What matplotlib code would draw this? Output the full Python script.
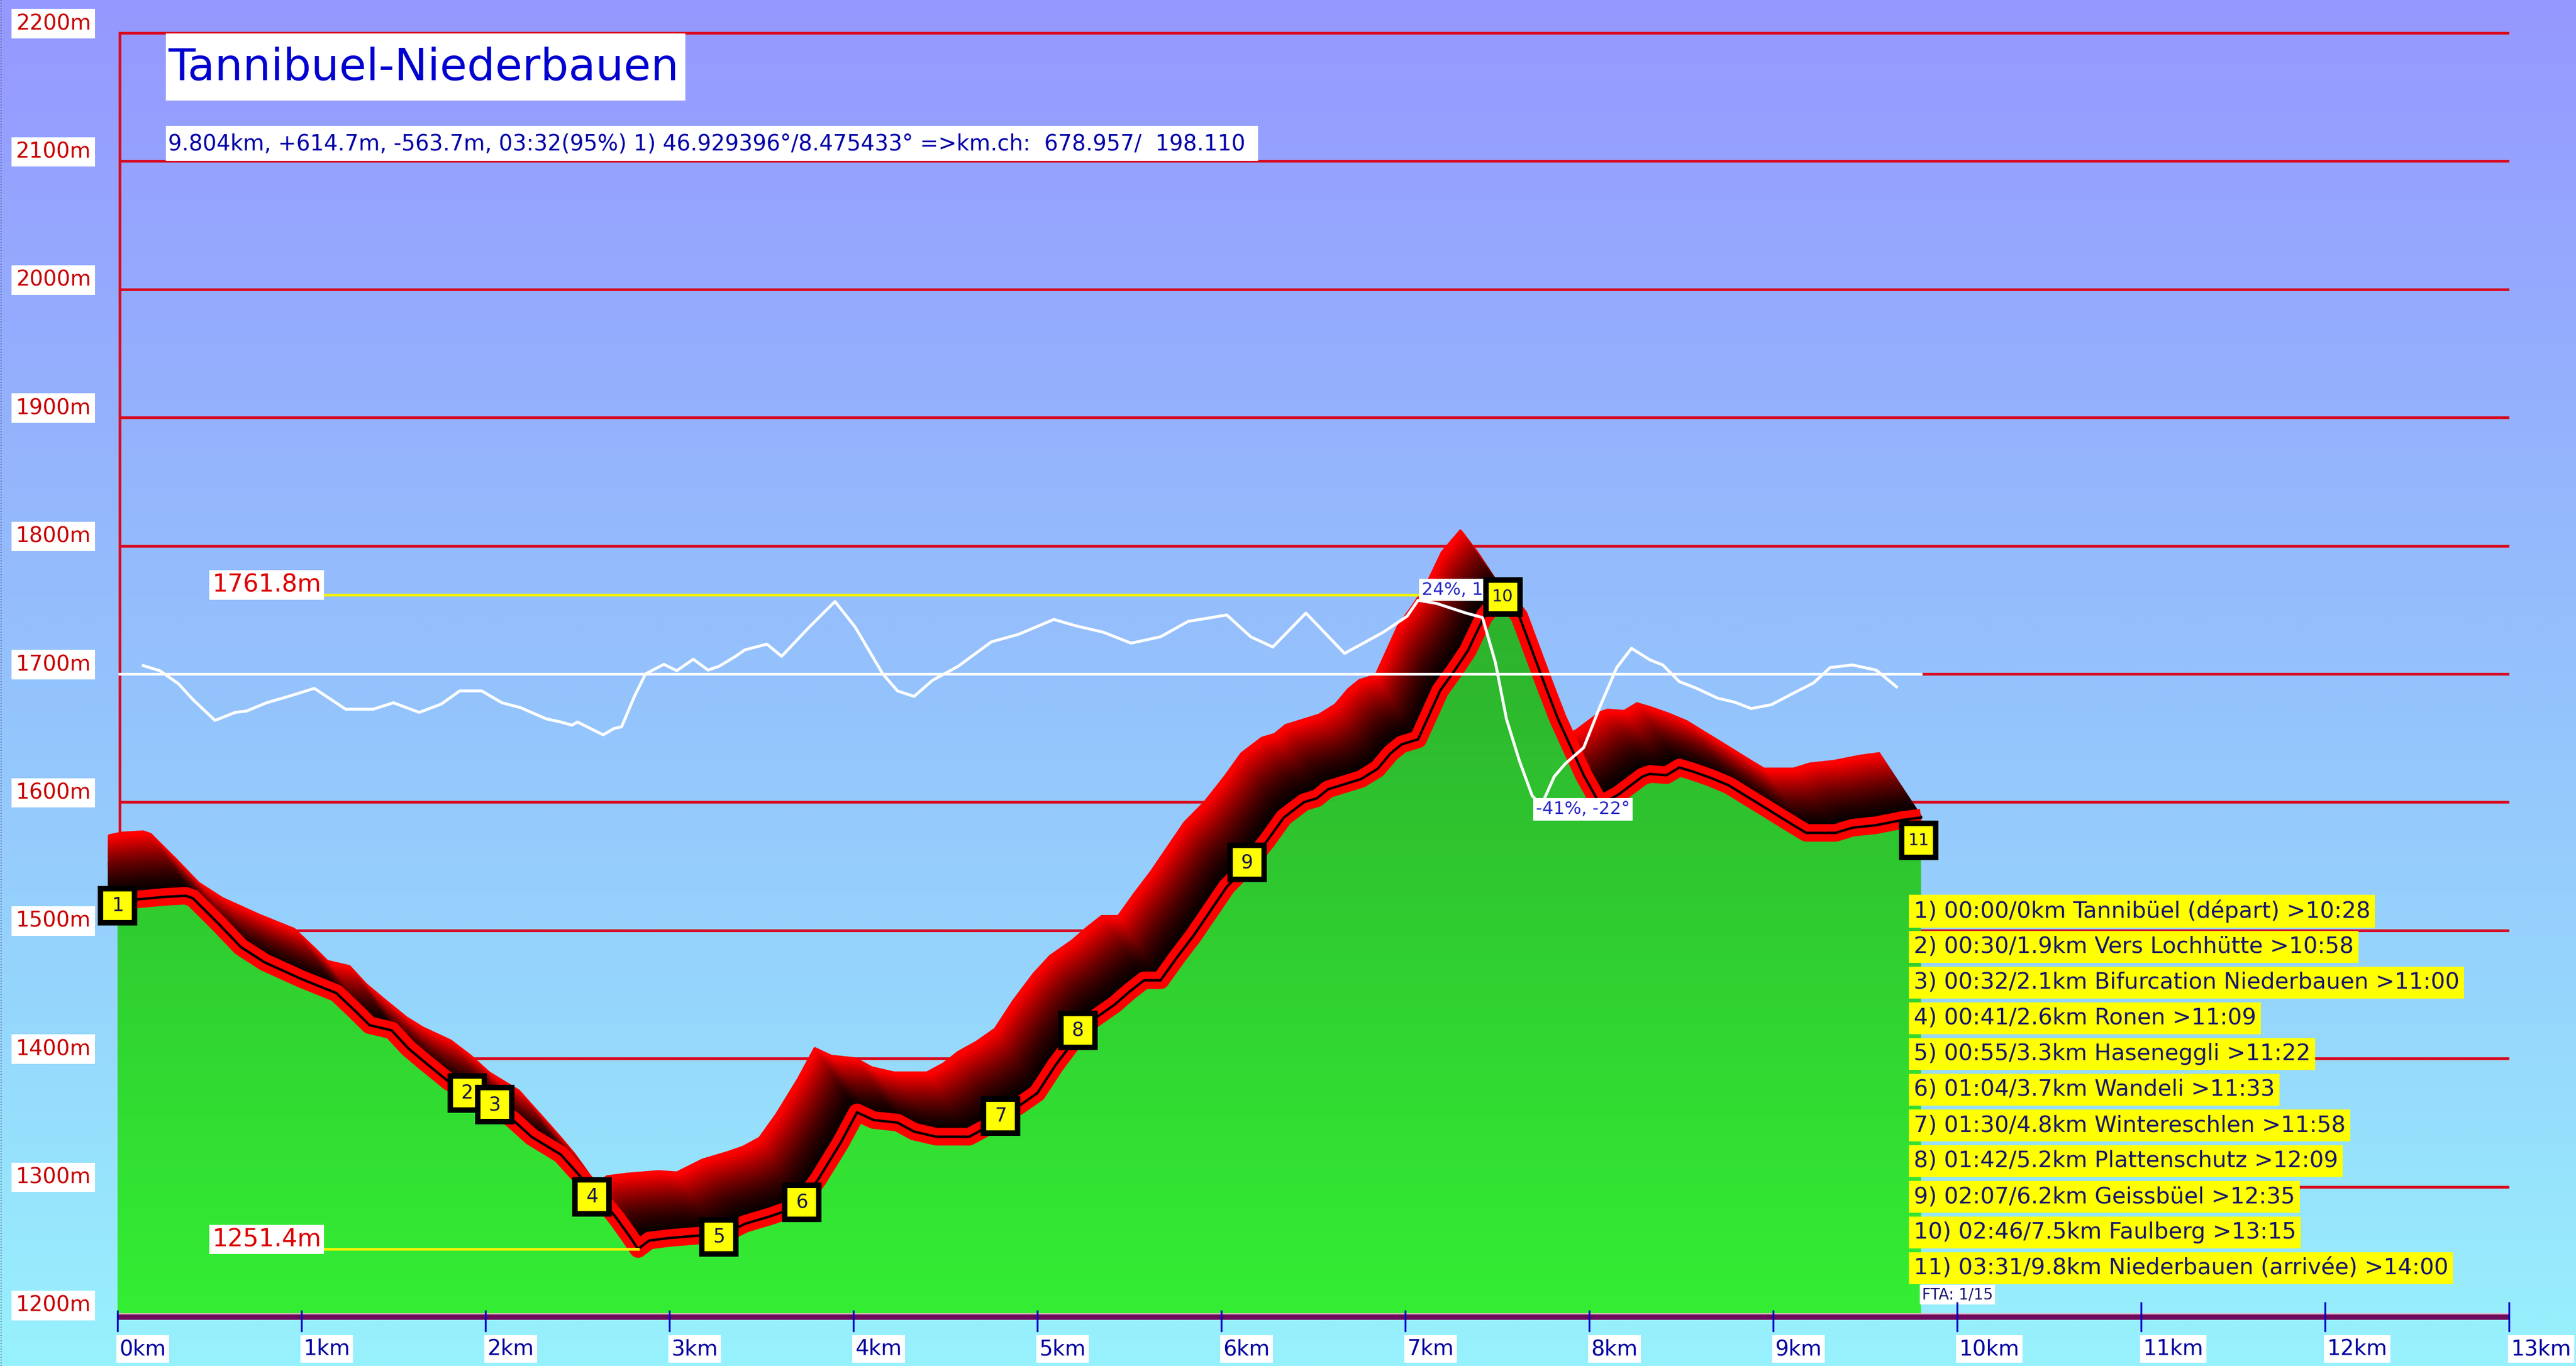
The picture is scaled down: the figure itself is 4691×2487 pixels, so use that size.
import numpy as np
import matplotlib
matplotlib.use("Agg")
import matplotlib.pyplot as plt
from matplotlib.patches import Polygon, Rectangle

# ---------------- data ----------------
dist_km = [0.00, 0.10, 0.25, 0.37, 0.41, 0.55, 0.67, 0.80, 1.00, 1.19, 1.30, 1.37, 1.49, 1.58,
           1.68, 1.80, 1.89, 2.04, 2.15, 2.25, 2.41, 2.56, 2.64, 2.71, 2.78, 2.83, 2.89, 3.00,
           3.17, 3.27, 3.41, 3.55, 3.63, 3.72, 3.81, 3.93, 4.02, 4.11, 4.24, 4.33, 4.45, 4.63,
           4.72, 4.80, 4.90, 5.00, 5.10, 5.21, 5.30, 5.42, 5.50, 5.58, 5.67, 5.76, 5.85, 5.94,
           6.03, 6.14, 6.25, 6.34, 6.45, 6.52, 6.58, 6.76, 6.85, 6.92, 6.98, 7.07, 7.13, 7.19,
           7.27, 7.34, 7.43, 7.53, 7.62, 7.69, 7.76, 7.83, 7.90, 7.97, 8.06, 8.16, 8.29, 8.33,
           8.42, 8.49, 8.56, 8.66, 8.76, 8.85, 8.93, 9.02, 9.11, 9.18, 9.34, 9.43, 9.56, 9.70,
           9.804]
elev_m = [1523, 1524, 1526, 1527, 1525, 1505, 1487, 1475, 1462, 1451, 1436, 1426, 1422, 1408,
          1396, 1382, 1374, 1364, 1352, 1339, 1325, 1301, 1288, 1276, 1262, 1251.4, 1258, 1260,
          1262, 1261, 1271, 1277, 1281, 1288, 1306, 1334, 1358, 1352, 1350, 1343, 1339, 1339,
          1346, 1355, 1363, 1373, 1395, 1416, 1430, 1442, 1452, 1461, 1461, 1479, 1496, 1515,
          1534, 1550, 1570, 1588, 1600, 1603, 1610, 1618, 1626, 1638, 1645, 1649, 1668, 1687,
          1703, 1718, 1745, 1761.8, 1745, 1718, 1691, 1665, 1643, 1621, 1598, 1606, 1620, 1622,
          1621, 1627, 1624, 1619, 1613, 1605, 1598, 1590, 1582, 1576, 1576, 1580, 1582, 1586,
          1588]

slope_km = [0.14, 0.23, 0.33, 0.41, 0.53, 0.64, 0.70, 0.81, 0.93, 1.07, 1.24, 1.39, 1.50, 1.64,
            1.76, 1.86, 1.98, 2.09, 2.19, 2.33, 2.41, 2.47, 2.50, 2.64, 2.70, 2.74, 2.81, 2.87,
            2.97, 3.04, 3.13, 3.21, 3.27, 3.36, 3.41, 3.53, 3.61, 3.76, 3.90, 4.01, 4.16, 4.24,
            4.33, 4.43, 4.57, 4.75, 4.90, 5.09, 5.21, 5.36, 5.51, 5.67, 5.82, 6.03, 6.16, 6.28,
            6.46, 6.67, 6.88, 7.01, 7.07, 7.17, 7.33, 7.42, 7.49, 7.55, 7.62, 7.69, 7.74, 7.81,
            7.87, 7.97, 8.06, 8.15, 8.23, 8.33, 8.40, 8.49, 8.58, 8.70, 8.79, 8.88, 8.99, 9.11,
            9.22, 9.31, 9.43, 9.56, 9.67]
slope_pct = [2.6, 1, -3, -8, -14.5, -12, -11.6, -9, -7, -4.5, -11, -11, -9, -12,
             -9.4, -5.3, -5.3, -9, -10.5, -14, -15, -16, -15, -19, -17, -16.5, -7, 0,
             3, 1, 4.6, 1.2, 2.4, 5.5, 7.5, 9.3, 5.5, 14.6, 22.6, 14.6, 0, -5.3,
             -7, -2, 2.4, 10, 12.4, 17, 15, 13, 9.6, 11.6, 16.4, 18.4, 11.6, 8.4,
             19, 6.4, 13, 18, 23, 22, 19, 17.6, 3.6, -14, -27, -38, -41, -32,
             -28, -23, -10, 2, 8, 4.4, 2.8, -2.4, -4.4, -7.6, -8.8, -10.8, -9.6, -6,
             -2.8, 2, 2.8, 1.2, -4]

wp_num = [1, 2, 3, 4, 5, 6, 7, 8, 9, 10, 11]
wp_km = [0.0, 1.90, 2.05, 2.58, 3.27, 3.72, 4.80, 5.22, 6.14, 7.53, 9.79]
wp_elev = [1519, 1373, 1364, 1292, 1261, 1288, 1355, 1422, 1553, 1760, 1570]

legend_lines = [
    "1) 00:00/0km Tannibüel (départ) >10:28",
    "2) 00:30/1.9km Vers Lochhütte >10:58",
    "3) 00:32/2.1km Bifurcation Niederbauen >11:00",
    "4) 00:41/2.6km Ronen >11:09",
    "5) 00:55/3.3km Haseneggli >11:22",
    "6) 01:04/3.7km Wandeli >11:33",
    "7) 01:30/4.8km Wintereschlen >11:58",
    "8) 01:42/5.2km Plattenschutz >12:09",
    "9) 02:07/6.2km Geissbüel >12:35",
    "10) 02:46/7.5km Faulberg >13:15",
    "11) 03:31/9.8km Niederbauen (arrivée) >14:00",
]

y_ticks = [1200, 1300, 1400, 1500, 1600, 1700, 1800, 1900, 2000, 2100, 2200]
x_ticks = list(range(0, 14))
title = "Tannibuel-Niederbauen"
subtitle = "9.804km, +614.7m, -563.7m, 03:32(95%) 1) 46.929396°/8.475433° =>km.ch:  678.957/  198.110"
max_elev = 1761.8
min_elev = 1251.4
min_km = 2.83
max_km = 7.53
slope_max_label = "24%, 13°"
slope_min_label = "-41%, -22°"
fta_text = "FTA: 1/15"
SLOPE_SCALE = 2.5      # metres of chart per % of slope
SLOPE_BASE = 1700

# ---------------- layout (pixel mapping) ----------------
W, H, DPI = 4691, 2487, 100
X0_PX, KM_PX = 214, 335.0
Y1200_PX, M_PX = 2394, 2.334


def kx(px):
    return (px - X0_PX) / KM_PX


def ey(py):
    return 1200 + (Y1200_PX - py) / M_PX


xlim = (kx(0), kx(W))
ylim = (ey(H), ey(0))

fig = plt.figure(figsize=(W / DPI, H / DPI), dpi=DPI)
ax = fig.add_axes([0, 0, 1, 1])
ax.set_xlim(*xlim)
ax.set_ylim(*ylim)
ax.axis("off")

# background gradient
stops = np.array([0.0, 0.4, 0.75, 1.0])
cols = np.array([[150, 152, 255], [148, 186, 252], [150, 215, 252], [152, 242, 252]]) / 255
t = np.linspace(0, 1, 512)
grad = np.stack([np.interp(t, stops, cols[:, i]) for i in range(3)], axis=1)[:, None, :]
ax.imshow(grad, extent=[xlim[0], xlim[1], ylim[0], ylim[1]], aspect="auto",
          origin="upper", zorder=0, interpolation="bilinear")

# left dotted frame
ax.plot([kx(2), kx(2)], [ylim[0], ylim[1]], color="#505080", lw=1.2, ls=(0, (1, 2)), zorder=1)

GRID_RED = "#D80A22"
# horizontal grid
for v in y_ticks[1:]:
    ax.plot([kx(218), x_ticks[-1]], [v, v], color=GRID_RED, lw=3.6, zorder=1,
            solid_capstyle="butt")
# y axis
ax.plot([kx(218), kx(218)], [1200, y_ticks[-1]], color=GRID_RED, lw=3.6, zorder=1)

# y labels
for v in y_ticks:
    ax.text(kx(97), v + 17 / M_PX, f"{v}m", color="#C80000", fontsize=28,
            ha="center", va="center", zorder=20,
            bbox=dict(boxstyle="square,pad=0.2", fc="white", ec="none"))

x = np.array(dist_km)
y = np.array(elev_m)

# 3D extrusion band
DX, DY = 0.23, 50.0
N = 90
for k in range(N, 0, -1):
    f = k / N
    xs = np.maximum(x - f * DX, x[0] - 0.045)
    ys = y + f * DY
    c = min(1.0, f ** 1.6 * 1.08)
    ax.plot(xs, ys, color=(c, 0, 0), lw=3.2, zorder=3, solid_joinstyle="round")

# green fill with gradient
poly_xy = np.vstack([np.column_stack([x, y]), [[x[-1], 1200], [x[0], 1200]]])
poly = Polygon(poly_xy, closed=True, fc="none", ec="none")
ax.add_patch(poly)
gt = np.linspace(0, 1, 256)
gtop = np.array([44, 172, 44]) / 255
gbot = np.array([52, 238, 52]) / 255
ggrad = (gtop[None, :] * (1 - gt[:, None]) + gbot[None, :] * gt[:, None])[:, None, :]
gim = ax.imshow(ggrad, extent=[x[0], x[-1], 1200, 1800], aspect="auto", origin="upper",
                zorder=4, interpolation="bilinear")
gim.set_clip_path(poly)

# profile line
ax.plot(x, y, color="#FF0000", lw=23, zorder=5, solid_joinstyle="round", solid_capstyle="butt")
ax.plot(x, y, color="black", lw=3.2, zorder=5.1, solid_joinstyle="round")

# white 1700 baseline and slope curve
ax.plot([kx(218), x[-1]], [SLOPE_BASE, SLOPE_BASE], color="white", lw=3.6, zorder=6)
sk = np.array(slope_km)
sp = np.array(slope_pct)
ax.plot(sk, SLOPE_BASE + sp * SLOPE_SCALE, color="white", lw=3.8, zorder=6,
        solid_joinstyle="round")

# slope extreme labels
imax = int(np.argmax(sp))
imin = int(np.argmin(sp))
ax.text(sk[imax] + 0.02, SLOPE_BASE + sp[imax] * SLOPE_SCALE + 8, slope_max_label,
        color="#2828C8", fontsize=23, ha="left", va="center", zorder=7,
        bbox=dict(boxstyle="square,pad=0.15", fc="white", ec="none"))
ax.text(sk[imin] - 0.03, SLOPE_BASE + sp[imin] * SLOPE_SCALE - 3, slope_min_label,
        color="#2828C8", fontsize=23, ha="left", va="center", zorder=7,
        bbox=dict(boxstyle="square,pad=0.15", fc="white", ec="none"))

# min / max yellow lines and labels
lab_right = kx(585)
ax.plot([lab_right, max_km], [max_elev, max_elev], color="#F2F200", lw=3.6, zorder=6.5)
ax.plot([lab_right, min_km], [min_elev, min_elev], color="#F2F200", lw=3.6, zorder=6.5)
for v in (max_elev, min_elev):
    ax.text(lab_right, v + 7.5, f"{v:.1f}m", color="#DD0000", fontsize=32, ha="right",
            va="center", zorder=8,
            bbox=dict(boxstyle="square,pad=0.12", fc="white", ec="none"))

# waypoint markers
ax.plot(wp_km, wp_elev, ls="none", marker="s", ms=44, mfc="#FFFF00", mec="black",
        mew=7.2, zorder=9)
for n, xk, ye in zip(wp_num, wp_km, wp_elev):
    ax.text(xk, ye, str(n), color="#141450", fontsize=25 if n < 10 else 22,
            ha="center", va="center", zorder=10)

# title and subtitle boxes
ax.add_patch(Rectangle((kx(302), ey(183)), (1248 - 302) / KM_PX, (183 - 61) / M_PX,
                       fc="white", ec="none", zorder=11))
ax.text(kx(306), ey(124), title, color="#0000D0", fontsize=58, ha="left", va="center",
        zorder=12)
ax.add_patch(Rectangle((kx(302), ey(293)), (2291 - 302) / KM_PX, (293 - 229) / M_PX,
                       fc="white", ec="none", zorder=11))
ax.text(kx(306), ey(262), subtitle, color="#0000A8", fontsize=28.5, ha="left", va="center",
        zorder=12)

# legend
for i, line in enumerate(legend_lines):
    yc = 1659 + 65 * i
    ax.text(kx(3485), ey(yc), line, color="#15156E", fontsize=29.5, ha="left", va="center",
            zorder=13, bbox=dict(boxstyle="square,pad=0.21", fc="#FFFF00", ec="none"))
ax.text(kx(3500), ey(2357), fta_text, color="#15156E", fontsize=20, ha="left", va="center",
        zorder=13, bbox=dict(boxstyle="square,pad=0.15", fc="white", ec="none"))

# x axis bar
ax.plot([x_ticks[0], x_ticks[-1]], [ey(2398), ey(2398)], color="#6E0A5A", lw=7, zorder=14,
        solid_capstyle="butt")
ax.plot([x_ticks[0], x_ticks[-1]], [ey(2392), ey(2392)], color="#F0B4C8", lw=1.5, zorder=14,
        solid_capstyle="butt")
for k in x_ticks:
    top = ey(2372) if k >= 10 else ey(2387)
    ax.plot([k, k], [top, ey(2423)], color="#0000C8", lw=2.4, zorder=15)
    ax.text(k + 0.01, ey(2456), f"{k}km", color="#0000A0", fontsize=28, ha="left",
            va="center", zorder=15,
            bbox=dict(boxstyle="square,pad=0.15", fc="white", ec="none"))

fig.savefig("out.png", dpi=DPI)
